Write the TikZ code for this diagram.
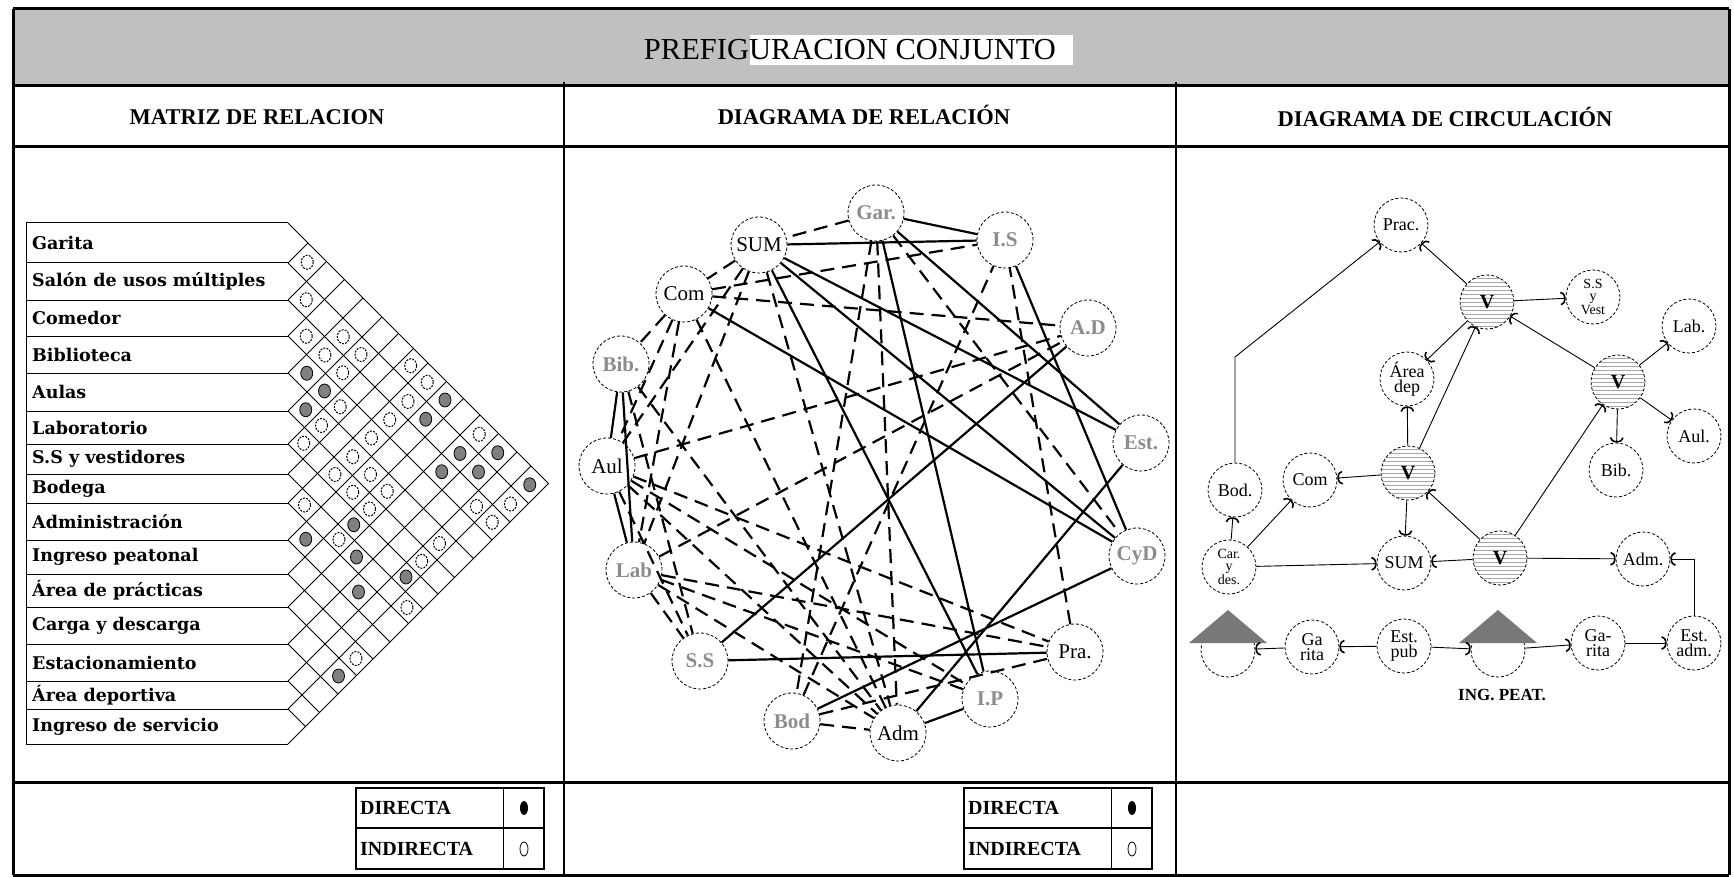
\documentclass[tikz,border=0pt]{standalone}
\usepackage{fontspec}
\setmainfont{Liberation Serif}
\newfontfamily\matfont{DejaVu Serif}
\usetikzlibrary{arrows.meta,shapes.geometric}
\definecolor{bandgray}{RGB}{192,192,192}
\definecolor{labelgray}{RGB}{140,140,140}
\definecolor{dotgray}{RGB}{128,128,128}
\definecolor{hutgray}{RGB}{120,120,120}
% row midpoints of the relation matrix
\foreach \y [count=\i] in {243,281.5,318,354.5,392,427.5,459,488.5,521.5,557,590.5,625.5,662.5,695,726.5}
    {\expandafter\xdef\csname matmid\i\endcsname{\y}}
\newcommand{\relcell}[3]{%
  \pgfmathsetmacro{\cellx}{288+(\csname matmid#2\endcsname-\csname matmid#1\endcsname)/2}%
  \pgfmathsetmacro{\celly}{(\csname matmid#2\endcsname+\csname matmid#1\endcsname)/2}%
  \draw[#3] (\cellx,\celly) ellipse [x radius=6, y radius=7];}
\tikzset{
    framebold/.style={line width=3pt},
    framethin/.style={line width=1.6pt},
    headtext/.style={font=\bfseries\fontsize{22.5}{22.5}\selectfont},
    titletext/.style={font=\fontsize{30.5}{30.5}\selectfont, inner sep=0pt},
    mattext/.style={anchor=west, inner sep=0pt, font=\matfont\bfseries\fontsize{17.5}{18}\selectfont},
    matline/.style={line width=1pt},
    matopen/.style={line width=1pt, dash pattern=on 2pt off 1.2pt},
    matfull/.style={fill=dotgray, line width=0.8pt},
    legendtext/.style={anchor=west, inner sep=0pt, font=\bfseries\fontsize{20}{20}\selectfont},
    relroom/.style={circle, draw, densely dashed, line width=0.8pt, minimum size=56pt, inner sep=0pt, font=\fontsize{21}{21}\selectfont},
    relroomgray/.style={relroom, text=labelgray, font=\bfseries\fontsize{21}{21}\selectfont},
    reldirect/.style={line width=2.2pt},
    relindirect/.style={line width=2.2pt, dash pattern=on 14pt off 8pt},
    circroom/.style={circle, draw, densely dashed, line width=0.8pt, minimum size=54pt, inner sep=0pt, align=center, font=\fontsize{18}{15}\selectfont},
    circsmall/.style={circroom, font=\fontsize{14}{12}\selectfont},
    circhub/.style={circroom, font=\bfseries\fontsize{20}{20}\selectfont, path picture={
        \foreach \k in {-24,-20,...,24}
            \draw[solid, gray!70, line width=0.8pt] ([xshift=-30pt,yshift=\k pt]path picture bounding box.center) -- ([xshift=30pt,yshift=\k pt]path picture bounding box.center);
    }},
    circarrow/.style={draw, solid, line width=0.9pt, -{Arc Barb[length=5pt, width=14pt, line width=1.6pt]}}
}
\begin{document}
\begin{tikzpicture}[x=1pt, y=-1pt]
    \useasboundingbox (0,0) rectangle (1734,877);
    % frame and headings
    \fill[bandgray] (13,10) rectangle (1729,86);
    \fill[white] (750,35) rectangle (1073,65);
    \node[titletext] (title) at (850,50) {PREFIGURACION CONJUNTO};
    \draw[framebold] (13,9) -- (1729,9);
    \draw[framebold] (13,86) -- (1729,86);
    \draw[framebold] (13,147) -- (1729,147);
    \draw[framebold] (13,782) -- (1729,782);
    \draw[framebold] (13,875) -- (1729,875);
    \draw[framebold] (13,9) -- (13,875);
    \draw[framebold] (1729,9) -- (1729,875);
    \draw[framethin] (564,82) -- (564,875);
    \draw[framethin] (1176,82) -- (1176,875);
    \node[headtext] (headmat) at (257,117) {MATRIZ DE RELACION};
    \node[headtext] (headrel) at (864,115) {DIAGRAMA DE RELACIÓN};
    \node[headtext] (headcirc) at (1445,117) {DIAGRAMA DE CIRCULACIÓN};

    % relation matrix
    \foreach \b in {223,263,300,336,373,411,444,474,503,540,574,607,644,681,709,744}{
        \draw[matline] (26,\b) -- (288,\b);
        \draw[matline] (288,\b) -- ++({(744-\b)/2},{(744-\b)/2});
        \draw[matline] (288,\b) -- ++({(\b-223)/2},{(223-\b)/2});
    }
    \draw[matline] (26,223) -- (26,744);
    \foreach \y/\t [count=\i] in {243/Garita, 281.5/Salón de usos múltiples, 318/Comedor, 354.5/Biblioteca, 392/Aulas, 427.5/Laboratorio, 459/S.S y vestidores, 488.5/Bodega, 521.5/Administración, 557/Ingreso peatonal, 590.5/Área de prácticas, 625.5/Carga y descarga, 662.5/Estacionamiento, 695/Área deportiva, 726.5/Ingreso de servicio}
        \node[mattext] (matrow\i) at (32,\y) {\t};
    \foreach \i/\j in {1/2,2/3,3/4,2/5,3/5,2/6,3/6,1/8,1/9,2/9,4/7,5/7,3/9,6/7,4/9,1/12,5/9,6/9,5/10,6/10,5/11,8/9,6/11,3/14,2/15,3/15,8/11,5/14,6/14,8/15,11/15}
        \relcell{\i}{\j}{matopen};
    \foreach \i/\j in {4/5,4/6,1/10,2/10,5/6,2/12,1/13,3/12,2/13,1/15,7/11,9/10,8/12,9/13,7/14,12/15}
        \relcell{\i}{\j}{matfull};

    % legends
    \foreach \lx/\nm in {356/mat,964/rel}{
        \draw[line width=1.5pt] (\lx,788) rectangle ++(188,81);
        \draw[line width=1.2pt] (\lx,828) -- ++(188,0);
        \draw[line width=1pt] ({\lx+147},788) -- ++(0,81);
        \node[legendtext] (\nm dir) at ({\lx+4},808) {DIRECTA};
        \node[legendtext] (\nm ind) at ({\lx+4},849) {INDIRECTA};
        \fill ({\lx+168},808) ellipse [x radius=4, y radius=7];
        \draw[line width=0.8pt] ({\lx+168},849) ellipse [x radius=4, y radius=7];
    }

    % relation diagram
    \node[relroomgray] (gar) at (876,213) {Gar.};
    \node[relroom] (sum) at (759,245) {SUM};
    \node[relroom] (com) at (684,294) {Com};
    \node[relroomgray] (bib) at (621,364) {Bib.};
    \node[relroom] (aul) at (607,466) {Aul};
    \node[relroomgray] (lab) at (634,570) {Lab};
    \node[relroomgray] (ss) at (700,661) {S.S};
    \node[relroomgray] (bod) at (792,721) {Bod};
    \node[relroom] (adm) at (898,733) {Adm};
    \node[relroomgray] (ip) at (990,699) {I.P};
    \node[relroom] (pra) at (1075,652) {Pra.};
    \node[relroomgray] (cyd) at (1137,556) {CyD};
    \node[relroomgray] (est) at (1141,443) {Est.};
    \node[relroomgray] (ad) at (1088,328) {A.D};
    \node[relroomgray] (is) at (1005,240) {I.S};
    \foreach \a/\b in {gar/sum,sum/com,com/bib,sum/aul,com/aul,sum/lab,com/lab,gar/bod,gar/adm,sum/adm,bib/ss,aul/ss,com/adm,lab/ss,bib/adm,gar/cyd,aul/adm,lab/adm,aul/ip,lab/ip,aul/pra,bod/adm,lab/pra,com/ad,com/is,bod/pra,aul/ad,lab/ad,bod/is,pra/is}
        \draw[relindirect] (\a) -- (\b);
    \foreach \a/\b in {bib/aul,bib/lab,gar/ip,sum/ip,aul/lab,sum/cyd,gar/est,com/cyd,sum/est,gar/is,sum/is,ss/pra,adm/ip,bod/cyd,adm/est,ss/ad,cyd/is}
        \draw[reldirect] (\a) -- (\b);

    % circulation diagram
    \node[circroom] (circprac) at (1401,225) {Prac.};
    \node[circroom] (circareadep) at (1407,379) {Área\\dep};
    \node[circhub] (hubmid) at (1408,473) {V};
    \node[circroom] (circcom) at (1310,480) {Com};
    \node[circroom] (circbod) at (1235,490) {Bod.};
    \node[circhub] (hubtop) at (1487,302) {V};
    \node[circsmall] (circssv) at (1593,297) {S.S\\y\\Vest};
    \node[circroom] (circlab) at (1689,326) {Lab.};
    \node[circhub] (hubright) at (1618,382) {V};
    \node[circroom] (circaul) at (1694,436) {Aul.};
    \node[circroom] (circbib) at (1616,470) {Bib.};
    \node[circsmall] (circcyd) at (1229,567) {Car.\\y\\des.};
    \node[circroom] (circsum) at (1404,563) {SUM};
    \node[circhub] (hubbot) at (1500,558) {V};
    \node[circroom] (circadm) at (1643,559) {Adm.};
    \node[circroom] (hutleft) at (1228,650) {};
    \node[circroom] (circgarl) at (1312,647) {Ga\\rita};
    \node[circroom] (circestpub) at (1404,646) {Est.\\pub};
    \node[circroom] (hutmid) at (1498,650) {};
    \node[circroom] (circgarr) at (1598,643) {Ga-\\rita};
    \node[circroom] (circestadm) at (1694,643) {Est.\\adm.};
    \foreach \h in {hutleft,hutmid}
        \fill[hutgray] ([shift={(-39,-7)}]\h.center) -- ([shift={(0,-40)}]\h.center) -- ([shift={(39,-7)}]\h.center) -- cycle;
    \node[font=\bfseries\fontsize{17}{17}\selectfont] (ingpeat) at (1502,695) {ING. PEAT.};
    \coordinate (bodbend) at (1235,357);

    \draw[circarrow] (circbod) -- (bodbend) -- (circprac);
    \draw[circarrow] (hubtop) -- (circprac);
    \draw[circarrow] (hubtop) -- (circssv);
    \draw[circarrow] (hubtop) -- (circareadep);
    \draw[circarrow] (hubmid) -- (circareadep);
    \draw[circarrow] (hubmid) -- (hubtop);
    \draw[circarrow] (hubmid) -- (circcom);
    \draw[circarrow] (hubmid) -- (circsum);
    \draw[circarrow] (hubbot) -- (hubmid);
    \draw[circarrow] (hubbot) -- (hubright);
    \draw[circarrow] (hubright) -- (hubtop);
    \draw[circarrow] (hubright) -- (circlab);
    \draw[circarrow] (hubright) -- (circaul);
    \draw[circarrow] (hubright) -- (circbib);
    \draw[circarrow] (hubbot) -- (circsum);
    \draw[circarrow] (hubbot) -- (circadm);
    \draw[circarrow] (circcyd) -- (circsum);
    \draw[circarrow] (circcyd) -- (circcom);
    \draw[circarrow] (circcyd) -- (circbod);
    \draw[circarrow] (circestadm) |- (circadm);
    \draw[circarrow] (circgarr) -- (circestadm);
    \draw[circarrow] (hutmid) -- (circgarr);
    \draw[circarrow] (circestpub) -- (hutmid);
    \draw[circarrow] (circestpub) -- (circgarl);
    \draw[circarrow] (circgarl) -- (hutleft);
\end{tikzpicture}
\end{document}
